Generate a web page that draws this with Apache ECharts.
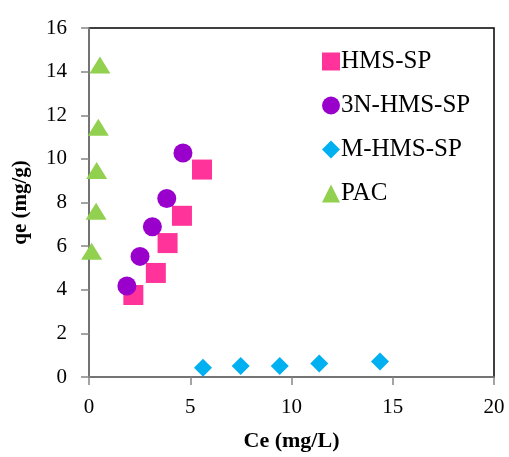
<!DOCTYPE html>
<html>
<head>
<meta charset="utf-8">
<script src="https://cdn.jsdelivr.net/npm/echarts@6/dist/echarts.min.js"></script>
<style>html,body{margin:0;padding:0;background:#fff;}#c{width:509px;height:457px;}</style>
</head>
<body>
<div id="c"></div>
<script>
const seriesNames = ['HMS-SP', '3N-HMS-SP', 'M-HMS-SP', 'PAC'];
const hmsX = [2.19, 3.30, 3.88, 4.59, 5.58];
const hmsY = [3.76, 4.77, 6.14, 7.39, 9.51];
const n3X = [1.87, 2.52, 3.13, 3.84, 4.64];
const n3Y = [4.17, 5.53, 6.89, 8.18, 10.27];
const mX = [5.63, 7.49, 9.42, 11.37, 14.37];
const mY = [0.42, 0.50, 0.50, 0.62, 0.71];
const pacX = [0.13, 0.35, 0.38, 0.46, 0.54];
const pacY = [5.77, 7.60, 9.47, 11.45, 14.30];
const xTicks = [0, 5, 10, 15, 20];
const yTicks = [0, 2, 4, 6, 8, 10, 12, 14, 16];

const zip = (xs, ys) => xs.map((x, i) => [x, ys[i]]);
const font = 'Liberation Serif';
const chart = echarts.init(document.getElementById('c'));
chart.setOption({
  animation: false,
  backgroundColor: '#fff',
  grid: { left: 89, right: 15, top: 28, bottom: 77, show: true, borderColor: '#000', borderWidth: 1.5, backgroundColor: 'transparent' },
  legend: {
    orient: 'vertical', left: 317, top: 44,
    itemWidth: 18, itemHeight: 18, itemGap: 19,
    data: seriesNames,
    textStyle: { fontFamily: font, fontSize: 25, color: '#000', padding: [0, 0, 0, -4] }
  },
  xAxis: {
    type: 'value', min: xTicks[0], max: xTicks[xTicks.length - 1], interval: 5,
    name: 'Ce (mg/L)', nameLocation: 'middle', nameGap: 53,
    nameTextStyle: { fontFamily: font, fontSize: 22, fontWeight: 'bold', color: '#000' },
    axisLine: { show: true, onZero: false, lineStyle: { color: '#868686', width: 1.5 } },
    axisTick: { show: true, length: 8, lineStyle: { color: '#868686', width: 1.5 } },
    axisLabel: { fontFamily: font, fontSize: 21, color: '#000', margin: 20 },
    splitLine: { show: false }
  },
  yAxis: {
    type: 'value', min: yTicks[0], max: yTicks[yTicks.length - 1], interval: 2,
    name: 'qe (mg/g)', nameLocation: 'middle', nameGap: 58,
    nameTextStyle: { fontFamily: font, fontSize: 21, fontWeight: 'bold', color: '#000' },
    axisLine: { show: true, onZero: false, lineStyle: { color: '#868686', width: 1.5 } },
    axisTick: { show: true, length: 8, lineStyle: { color: '#868686', width: 1.5 } },
    axisLabel: { fontFamily: font, fontSize: 21, color: '#000', margin: 22 },
    splitLine: { show: false }
  },
  series: [
    { name: seriesNames[0], type: 'scatter', symbol: 'rect', symbolSize: 20, itemStyle: { color: '#FF3399', opacity: 1 }, data: zip(hmsX, hmsY) },
    { name: seriesNames[1], type: 'scatter', symbol: 'circle', symbolSize: 19, itemStyle: { color: '#9900CC', opacity: 1 }, data: zip(n3X, n3Y) },
    { name: seriesNames[2], type: 'scatter', symbol: 'diamond', symbolSize: 18, itemStyle: { color: '#00B0F0', opacity: 1 }, data: zip(mX, mY) },
    { name: seriesNames[3], type: 'scatter', symbol: 'triangle', symbolSize: [21, 17], itemStyle: { color: '#92D050', opacity: 1 }, data: zip(pacX, pacY) }
  ]
});
</script>
</body>
</html>
